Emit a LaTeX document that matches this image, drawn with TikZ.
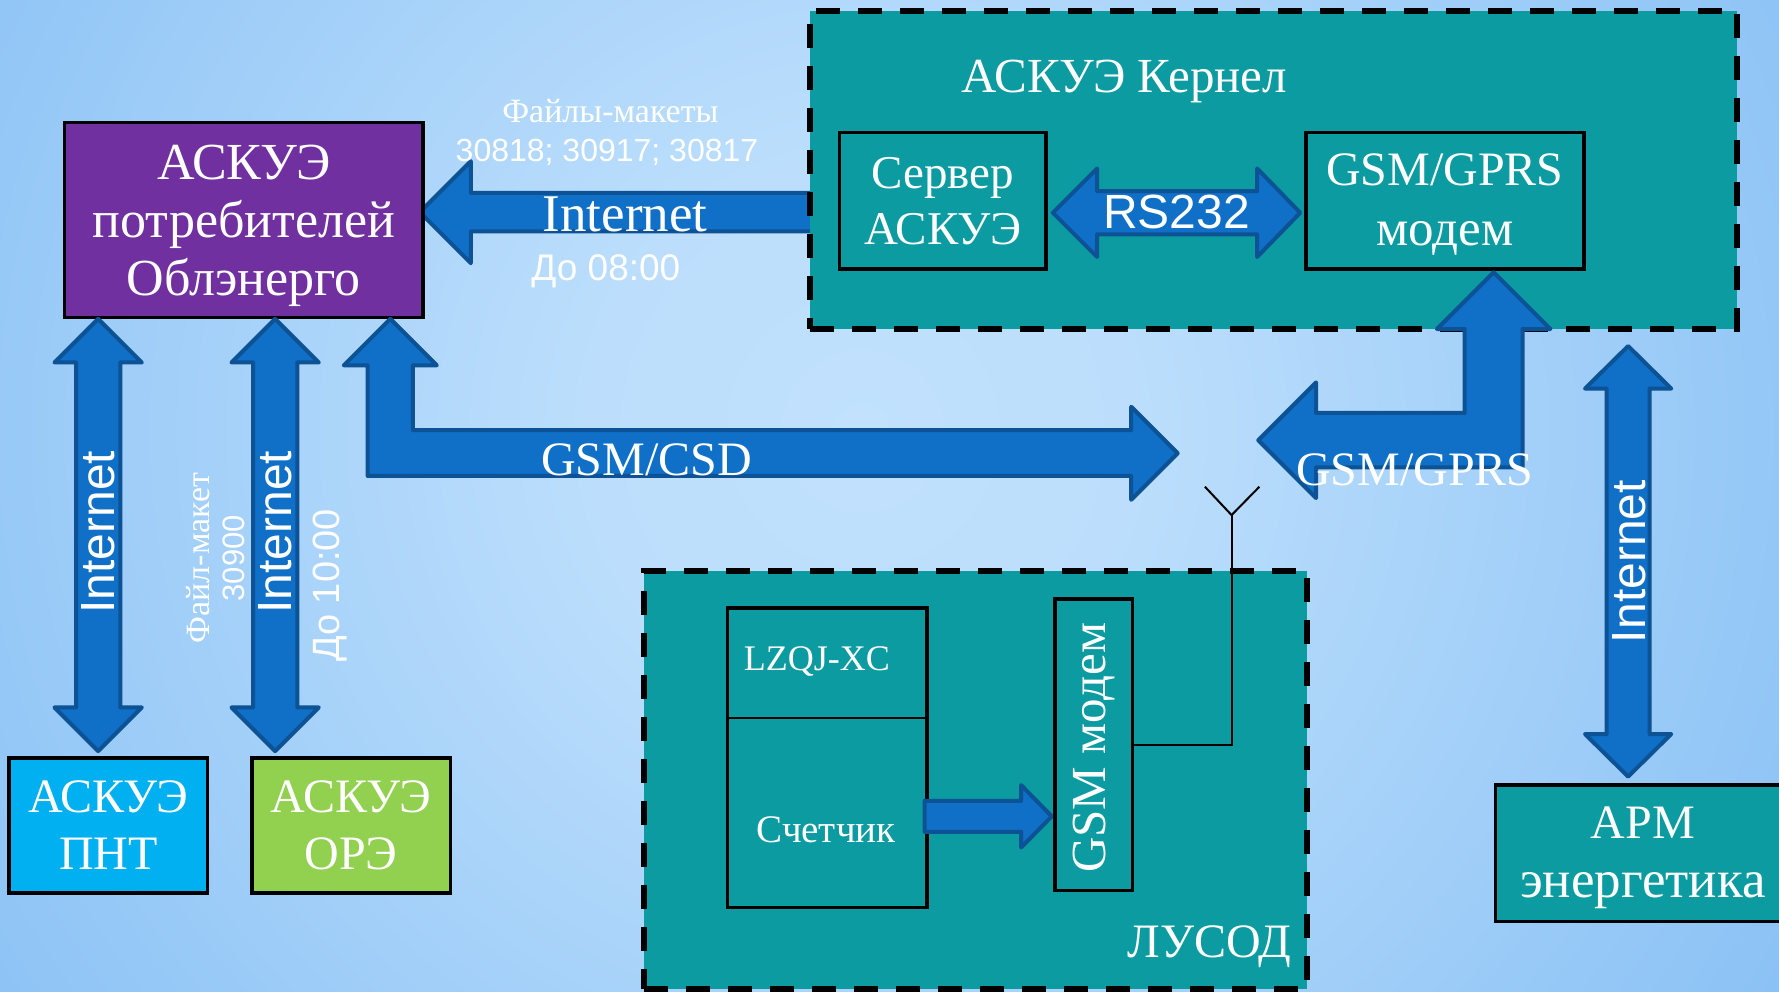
\documentclass[tikz,border=0pt]{standalone}
\usepackage{fontspec}
\setmainfont{Liberation Serif}
\setsansfont{Liberation Sans}
\usetikzlibrary{calc}
\definecolor{tealbox}{RGB}{11,155,160}
\definecolor{purplebox}{RGB}{112,48,160}
\definecolor{cyanbox}{RGB}{0,176,240}
\definecolor{greenbox}{RGB}{146,208,80}
\definecolor{arrowfill}{RGB}{16,111,198}
\definecolor{arrowline}{RGB}{12,82,148}
\pgfdeclareradialshading{bgshade}{\pgfpoint{0bp}{0bp}}{%
 rgb(0bp)=(0.757,0.882,0.992);
 rgb(6bp)=(0.737,0.871,0.988);
 rgb(26bp)=(0.518,0.745,0.957);
 rgb(42bp)=(0.416,0.682,0.941);
 rgb(50bp)=(0.40,0.67,0.94)}
% vertical double block arrow: cx, top, bottom, shaft half, head half, head length
\newcommand\vdarrow[6]{\draw[barrow] (#1,#2) -- ({#1+#5},{#2+#6}) -- ({#1+#4},{#2+#6}) -- ({#1+#4},{#3-#6}) -- ({#1+#5},{#3-#6}) -- (#1,#3) -- ({#1-#5},{#3-#6}) -- ({#1-#4},{#3-#6}) -- ({#1-#4},{#2+#6}) -- ({#1-#5},{#2+#6}) -- cycle;}
\newcommand\fsz[2]{\fontsize{#1}{#2}\selectfont}
\tikzset{
  dbox/.style={rectangle, draw=black, line width=6pt, dash pattern=on 24pt off 18pt, fill=tealbox, inner sep=0pt},
  sbox/.style={rectangle, draw=black, line width=3.5pt, inner sep=0pt, text=white, align=center, font=\fsz{48}{57}},
  barrow/.style={fill=arrowfill, draw=arrowline, line width=4pt, line join=round},
  wt/.style={text=white, inner sep=0pt, align=center},
  antenna/.style={draw=black, line width=2pt}
}
\begin{document}
\begin{tikzpicture}[x=1.1346pt,y=-1.1346pt]
\useasboundingbox (0,0) rectangle (1568,874);
\clip (0,0) rectangle (1568,874);
\fill[shading=bgshade] (760,380) circle[radius=1134.6pt];

% left Internet arrow (behind kernel box)
\draw[barrow] (370,187) -- (415,142) -- (415,170) -- (720,170) -- (720,204) -- (415,204) -- (415,232) -- cycle;

% containers
\node[dbox, minimum width=927pt, minimum height=317.7pt] (kernel) at (1122.5,150) {};
\node[dbox, minimum width=662.6pt, minimum height=418.7pt] (lusod) at (860,687.5) {};

% boxes
\node[sbox, fill=purplebox, minimum width=358.5pt, minimum height=195.2pt] (purple) at (215,194) {};
\node[wt, font=\fsz{52}{58}] (purpletxt) at (215,199) {АСКУЭ\\потребителей\\Облэнерго};
\node[sbox, minimum width=206.5pt, minimum height=136.2pt, font=\fsz{47}{56}] (server) at (831,177) {Сервер\\АСКУЭ};
\node[sbox, minimum width=278pt, minimum height=136.2pt] (gprs) at (1273.5,177) {};
\node[wt, font=\fsz{48}{60}] (gprstxt) at (1273.5,180) {GSM/GPRS\\{\fsz{51}{60}модем}};
\node[sbox, fill=cyanbox, minimum width=198.6pt, minimum height=135pt] (pnt) at (95.5,727.5) {АСКУЭ\\ПНТ};
\node[sbox, fill=greenbox, minimum width=198.6pt, minimum height=135pt] (ore) at (309.5,727.5) {АСКУЭ\\ОРЭ};
\node[sbox, fill=tealbox, minimum width=295pt, minimum height=136.2pt] (arm) at (1448,752) {};
\node[wt, font=\fsz{48}{59}] (armtxt) at (1448,756) {АРМ\\{\fsz{53}{59}энергетика}};
\node[sbox, minimum width=199.7pt, minimum height=299.5pt] (lzqj) at (729,668) {};
\node[sbox, minimum width=77.2pt, minimum height=291.6pt] (gsmmodem) at (964,656.5) {};

% titles
\node[wt, font=\fsz{49}{55}] (kerneltitle) at (991,72) {АСКУЭ Кернел};
\node[wt, font=\fsz{48}{55}] (lusodtitle) at (1066,834) {ЛУСОД};
\node[wt, font=\fsz{36}{40}] (lzqjtxt) at (720,583) {LZQJ-XC};
\node[wt, font=\fsz{39}{44}] (countertxt) at (728,731) {Счетчик};
\node[wt, font=\fsz{49}{55}, rotate=90] (gsmmodemtxt) at (964,659) {GSM модем};
\draw[line width=2pt] (lzqj.west |- 0,633) -- (lzqj.east |- 0,633);

% RS232 double arrow
\draw[barrow] (928,187.5) -- (967,148.5) -- (967,168.5) -- (1108,168.5) -- (1108,148.5) -- (1146,187.5) -- (1108,226.5) -- (1108,206.5) -- (967,206.5) -- (967,226.5) -- cycle;
\node[wt, font=\sffamily\fsz{48}{52}] (rs) at (1037,187) {RS232};

% vertical double arrows
\vdarrow{86.5}{281}{662}{19.5}{38.5}{38.5}
\vdarrow{242.5}{281}{662}{19.5}{38.5}{38.5}
\vdarrow{1435}{305}{684.5}{19}{38}{37.5}

% GSM/CSD L arrow
\draw[barrow] (344,281) -- (385,322) -- (364,322) -- (364,379) -- (997,379) -- (997,358.5) -- (1038,399.5) -- (997,440.5) -- (997,419.5) -- (324,419.5) -- (324,322) -- (303,322) -- cycle;

% GSM/GPRS L arrow
\draw[barrow] (1316.5,240) -- (1366.5,290) -- (1342,290) -- (1342,412) -- (1160,412) -- (1160,439) -- (1109,388) -- (1160,337) -- (1160,364) -- (1291,364) -- (1291,290) -- (1266.5,290) -- cycle;

% counter -> modem arrow
\draw[barrow] (927,719.5) -- (900,692) -- (900,705.8) -- (815,705.8) -- (815,733.2) -- (900,733.2) -- (900,747) -- cycle;

% antenna
\coordinate (antbase) at (1085.5,454);
\draw[antenna] (gsmmodem.east) -- (antbase |- gsmmodem.east) -- (antbase);
\draw[antenna] (1062,429) -- (antbase) -- (1110,429);

% arrow labels
\node[wt, font=\fsz{34}{38}] (files1) at (538,98) {Файлы-макеты};
\node[wt, font=\sffamily\fsz{32}{36}] (files2) at (535,134) {30818; 30917; 30817};
\node[wt, font=\fsz{53}{58}] (inet1) at (551,189) {Internet};
\node[wt, font=\sffamily\fsz{37}{40}] (until8) at (534,239) {До 08:00};
\node[wt, font=\fsz{48}{52}] (csd) at (570,405) {GSM/CSD};
\node[wt, font=\fsz{48}{52}] (gprslbl) at (1247,414) {GSM/GPRS};
\node[wt, font=\sffamily\fsz{48}{52}, rotate=90] (inet2) at (86.5,469) {Internet};
\node[wt, font=\sffamily\fsz{48}{52}, rotate=90] (inet3) at (242.5,469) {Internet};
\node[wt, font=\sffamily\fsz{48}{52}, rotate=90] (inet4) at (1436,495) {Internet};
\node[wt, font=\fsz{34}{35}, rotate=90] (file3) at (190,492) {Файл-макет\\{\sffamily\fsz{31}{35}30900}};
\node[wt, font=\sffamily\fsz{38}{42}, rotate=90] (until10) at (291,516) {До 10:00};
\end{tikzpicture}
\end{document}
